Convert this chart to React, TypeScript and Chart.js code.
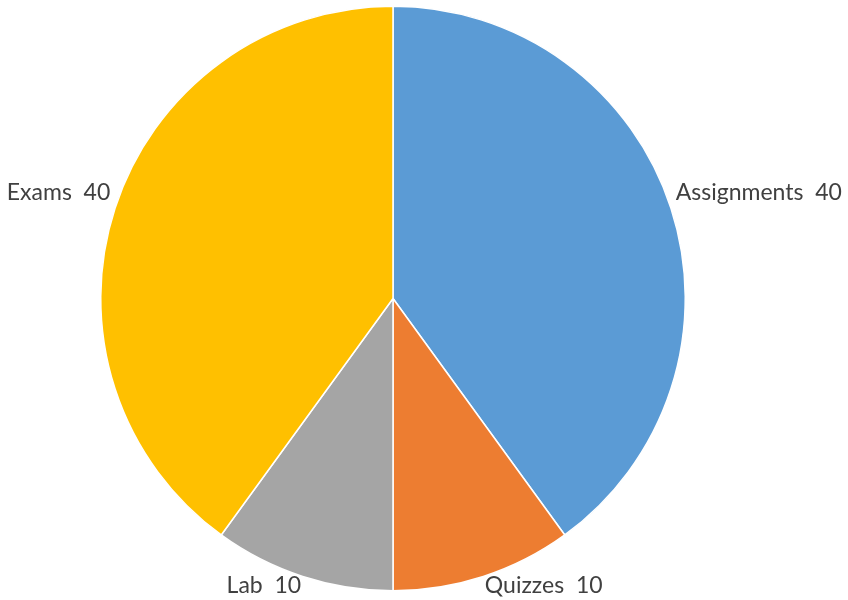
import React, { useEffect, useRef } from "react";
import { Chart, registerables } from "chart.js";

Chart.register(...registerables);

const categories = ["Assignments", "Quizzes", "Lab", "Exams"];
const values = [40, 10, 10, 40];
const colors = ["#5B9BD5", "#ED7D31", "#A5A5A5", "#FFC000"];

const FONT = "23px Lato, 'Open Sans', sans-serif";

const labelPlugin = {
  id: "outLabels",
  afterDatasetsDraw(chart: any) {
    const ctx = chart.ctx;
    const meta = chart.getDatasetMeta(0);
    const W = chart.width;
    const H = chart.height;
    ctx.save();
    ctx.font = FONT;
    ctx.fillStyle = "#404040";
    ctx.textBaseline = "middle";
    meta.data.forEach((arc: any, i: number) => {
      const p = arc.getProps(["x", "y", "startAngle", "endAngle", "outerRadius"], true);
      const mid = (p.startAngle + p.endAngle) / 2;
      const r = p.outerRadius + 5;
      const px = p.x + Math.cos(mid) * r;
      const py = p.y + Math.sin(mid) * r;
      const text = `${categories[i]}  ${values[i]}`;
      const w = ctx.measureText(text).width;
      const hh = 14;
      let left = Math.cos(mid) >= 0 ? px : px - w;
      let cy = Math.sin(mid) >= 0 ? py + hh : py - hh;
      cy = Math.min(Math.max(cy, hh), H - hh);
      left = Math.min(Math.max(left, 2), W - w - 2);
      ctx.textAlign = "left";
      ctx.fillText(text, left, cy);
    });
    ctx.restore();
  },
};

export default function App() {
  const ref = useRef<HTMLCanvasElement>(null);
  useEffect(() => {
    if (!ref.current) return;
    const chart = new Chart(ref.current, {
      type: "pie",
      data: {
        labels: categories,
        datasets: [
          {
            data: values,
            backgroundColor: colors,
            borderColor: "#FFFFFF",
            borderWidth: 1.5,
          },
        ],
      },
      options: {
        responsive: false,
        animation: false,
        layout: { padding: { left: 100, right: 162, top: 5, bottom: 8 } },
        plugins: {
          legend: { display: false },
          tooltip: { enabled: false },
        },
      },
      plugins: [labelPlugin],
    });
    return () => chart.destroy();
  }, []);
  return (
    <div style={{ position: "fixed", left: 0, top: 0, width: 848, height: 600, background: "#fff" }}>
      <canvas ref={ref} width={848} height={600} />
    </div>
  );
}
